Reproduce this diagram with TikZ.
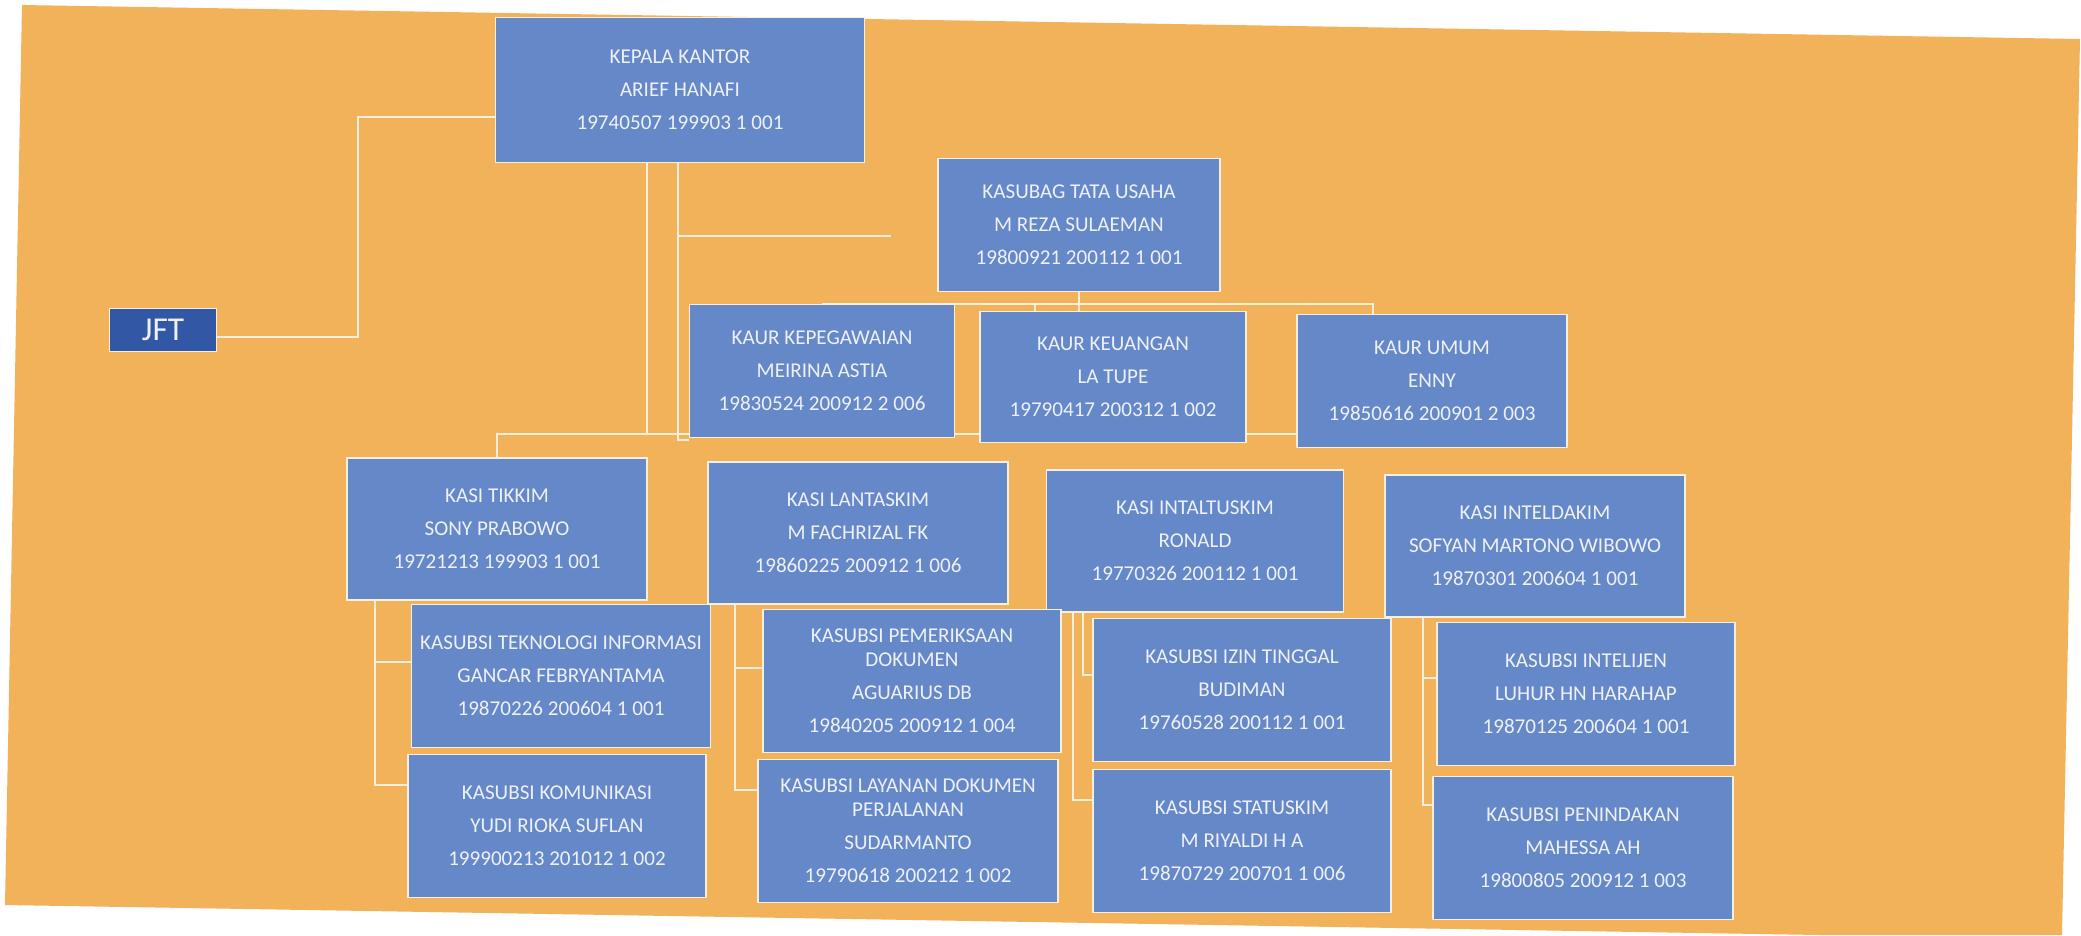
\documentclass[tikz,border=0pt]{standalone}
\usepackage{fontspec}
\setmainfont{Carlito}
\usetikzlibrary{calc}

\definecolor{paperorange}{RGB}{242,178,90}
\definecolor{unitblue}{RGB}{101,137,200}
\definecolor{jftblue}{RGB}{50,88,165}
\definecolor{linkcream}{RGB}{246,239,222}
\definecolor{textwhite}{RGB}{238,240,246}

\pgfdeclarelayer{paper}
\pgfdeclarelayer{links}
\pgfsetlayers{paper,links,main}

\begin{document}
\begin{tikzpicture}[x=0.01cm, y=-0.01cm,
    unit/.style={draw=linkcream, line width=0.5pt, fill=unitblue, text=textwhite,
      align=center, font=\fontsize{6}{9.4}\selectfont, inner sep=1pt,
      minimum width=3cm, minimum height=1.43cm},
    link/.style={draw=linkcream, line width=0.6pt}]
        \useasboundingbox (0,0) rectangle (2081,935);

        % Scanned sheet
        \begin{pgfonlayer}{paper}
          \fill[white] (0,0) rectangle (2081,935);
          \fill[paperorange] (22,5) -- (2080,39) -- (2062,935) -- (1820,935) -- (5,905) -- cycle;
        \end{pgfonlayer}

        % Head, JFT and Tata Usaha
        \node[unit, minimum width=3.69cm, minimum height=1.45cm] (kepala) at (680,90)
          {KEPALA KANTOR\\ARIEF HANAFI\\19740507 199903 1 001};
        \node[unit, fill=jftblue, font=\fontsize{9.5}{11}\selectfont,
          minimum width=1.07cm, minimum height=0.43cm] (jft) at (163,330) {JFT};
        \node[unit, minimum width=2.82cm, minimum height=1.33cm] (kasubag) at (1079,225)
          {KASUBAG TATA USAHA\\M REZA SULAEMAN\\19800921 200112 1 001};

        % Kaur row
        \node[unit, minimum width=2.65cm, minimum height=1.33cm] (kaurkepeg) at (822,371)
          {KAUR KEPEGAWAIAN\\MEIRINA ASTIA\\19830524 200912 2 006};
        \node[unit, minimum width=2.66cm, minimum height=1.31cm] (kaurkeu) at (1113,377)
          {KAUR KEUANGAN\\LA TUPE\\19790417 200312 1 002};
        \node[unit, minimum width=2.70cm, minimum height=1.33cm] (kaurumum) at (1432,381)
          {KAUR UMUM\\ENNY\\19850616 200901 2 003};

        % Kasi row
        \node[unit, minimum height=1.42cm] (tikkim) at (497,529)
          {KASI TIKKIM\\SONY PRABOWO\\19721213 199903 1 001};
        \node[unit, minimum height=1.42cm] (lantaskim) at (858,533)
          {KASI LANTASKIM\\M FACHRIZAL FK\\19860225 200912 1 006};
        \node[unit, minimum width=2.97cm, minimum height=1.42cm] (intaltuskim) at (1195,541)
          {KASI INTALTUSKIM\\RONALD\\19770326 200112 1 001};
        \node[unit, minimum height=1.42cm] (inteldakim) at (1535,546)
          {KASI INTELDAKIM\\SOFYAN MARTONO WIBOWO\\19870301 200604 1 001};

        % Kasubsi
        \node[unit, minimum width=2.99cm] (teknologi) at (561,676)
          {KASUBSI TEKNOLOGI INFORMASI\\GANCAR FEBRYANTAMA\\19870226 200604 1 001};
        \node[unit, minimum width=2.98cm] (komunikasi) at (557,826)
          {KASUBSI KOMUNIKASI\\YUDI RIOKA SUFLAN\\199900213 201012 1 002};
        \node[unit, minimum width=2.98cm] (pemeriksaan) at (912,681)
          {KASUBSI PEMERIKSAAN\\[-2.6pt]DOKUMEN\\AGUARIUS DB\\19840205 200912 1 004};
        \node[unit] (layanan) at (908,831)
          {KASUBSI LAYANAN DOKUMEN\\[-2.6pt]PERJALANAN\\SUDARMANTO\\19790618 200212 1 002};
        \node[unit, minimum width=2.98cm] (izin) at (1242,690)
          {KASUBSI IZIN TINGGAL\\BUDIMAN\\19760528 200112 1 001};
        \node[unit, minimum width=2.98cm] (statuskim) at (1242,841)
          {KASUBSI STATUSKIM\\M RIYALDI H A\\19870729 200701 1 006};
        \node[unit, minimum width=2.98cm] (intelijen) at (1586,694)
          {KASUBSI INTELIJEN\\LUHUR HN HARAHAP\\19870125 200604 1 001};
        \node[unit] (penindakan) at (1583,848)
          {KASUBSI PENINDAKAN\\MAHESSA AH\\19800805 200912 1 003};

        % Connectors
        \begin{pgfonlayer}{links}
          \coordinate (jftknee) at (358,337);
          \draw[link] ($(kepala.west)+(0,27)$) -| (jftknee) -- (jftknee -| jft.east);

          \coordinate (kasibus) at (497,434);
          \draw[link] ($(kepala.south)+(-33,0)$) |- (kasibus) -- (tikkim.north);
          \draw[link] (kasibus) -- (kasibus -| kaurumum.west);

          \coordinate (tuknee) at (678,440);
          \draw[link] ($(kepala.south)+(-2,0)$) -- (tuknee) -- (tuknee -| kaurkepeg.west);
          \coordinate (tuend) at ($(kasubag.west)+(-46,11)$);
          \draw[link] (tuend) -- (tuend -| tuknee);

          \coordinate (kaurbus) at (1035,304);
          \draw[link] (kasubag.south) -- (kasubag.south |- kaurkeu.north);
          \draw[link] (kaurkepeg.north |- kaurbus) -| ($(kaurumum.north)+(-59,0)$);
          \draw[link] (kaurbus) -- (kaurbus |- kaurkeu.north);

          \coordinate (tikspine) at (375,0);
          \draw[link] (tikkim.south -| tikspine) |- ($(teknologi.west)+(0,-14)$);
          \draw[link] (tikkim.south -| tikspine) |- ($(komunikasi.west)+(0,-41)$);

          \coordinate (lanspine) at (735,0);
          \draw[link] (lantaskim.south -| lanspine) |- ($(pemeriksaan.west)+(0,-13)$);
          \draw[link] (lantaskim.south -| lanspine) |- ($(layanan.west)+(0,-41)$);

          \coordinate (intspine) at (1083,0);
          \coordinate (intspineb) at (1073,0);
          \draw[link] (intaltuskim.south -| intspine) |- ($(izin.west)+(0,-15)$);
          \draw[link] (intaltuskim.south -| intspineb) |- ($(statuskim.west)+(0,-41)$);

          \coordinate (telspine) at (1423,0);
          \draw[link] (inteldakim.south -| telspine) |- ($(intelijen.west)+(0,-16)$);
          \draw[link] (inteldakim.south -| telspine) |- ($(penindakan.west)+(0,-43)$);
        \end{pgfonlayer}
      \end{tikzpicture}
\end{document}
